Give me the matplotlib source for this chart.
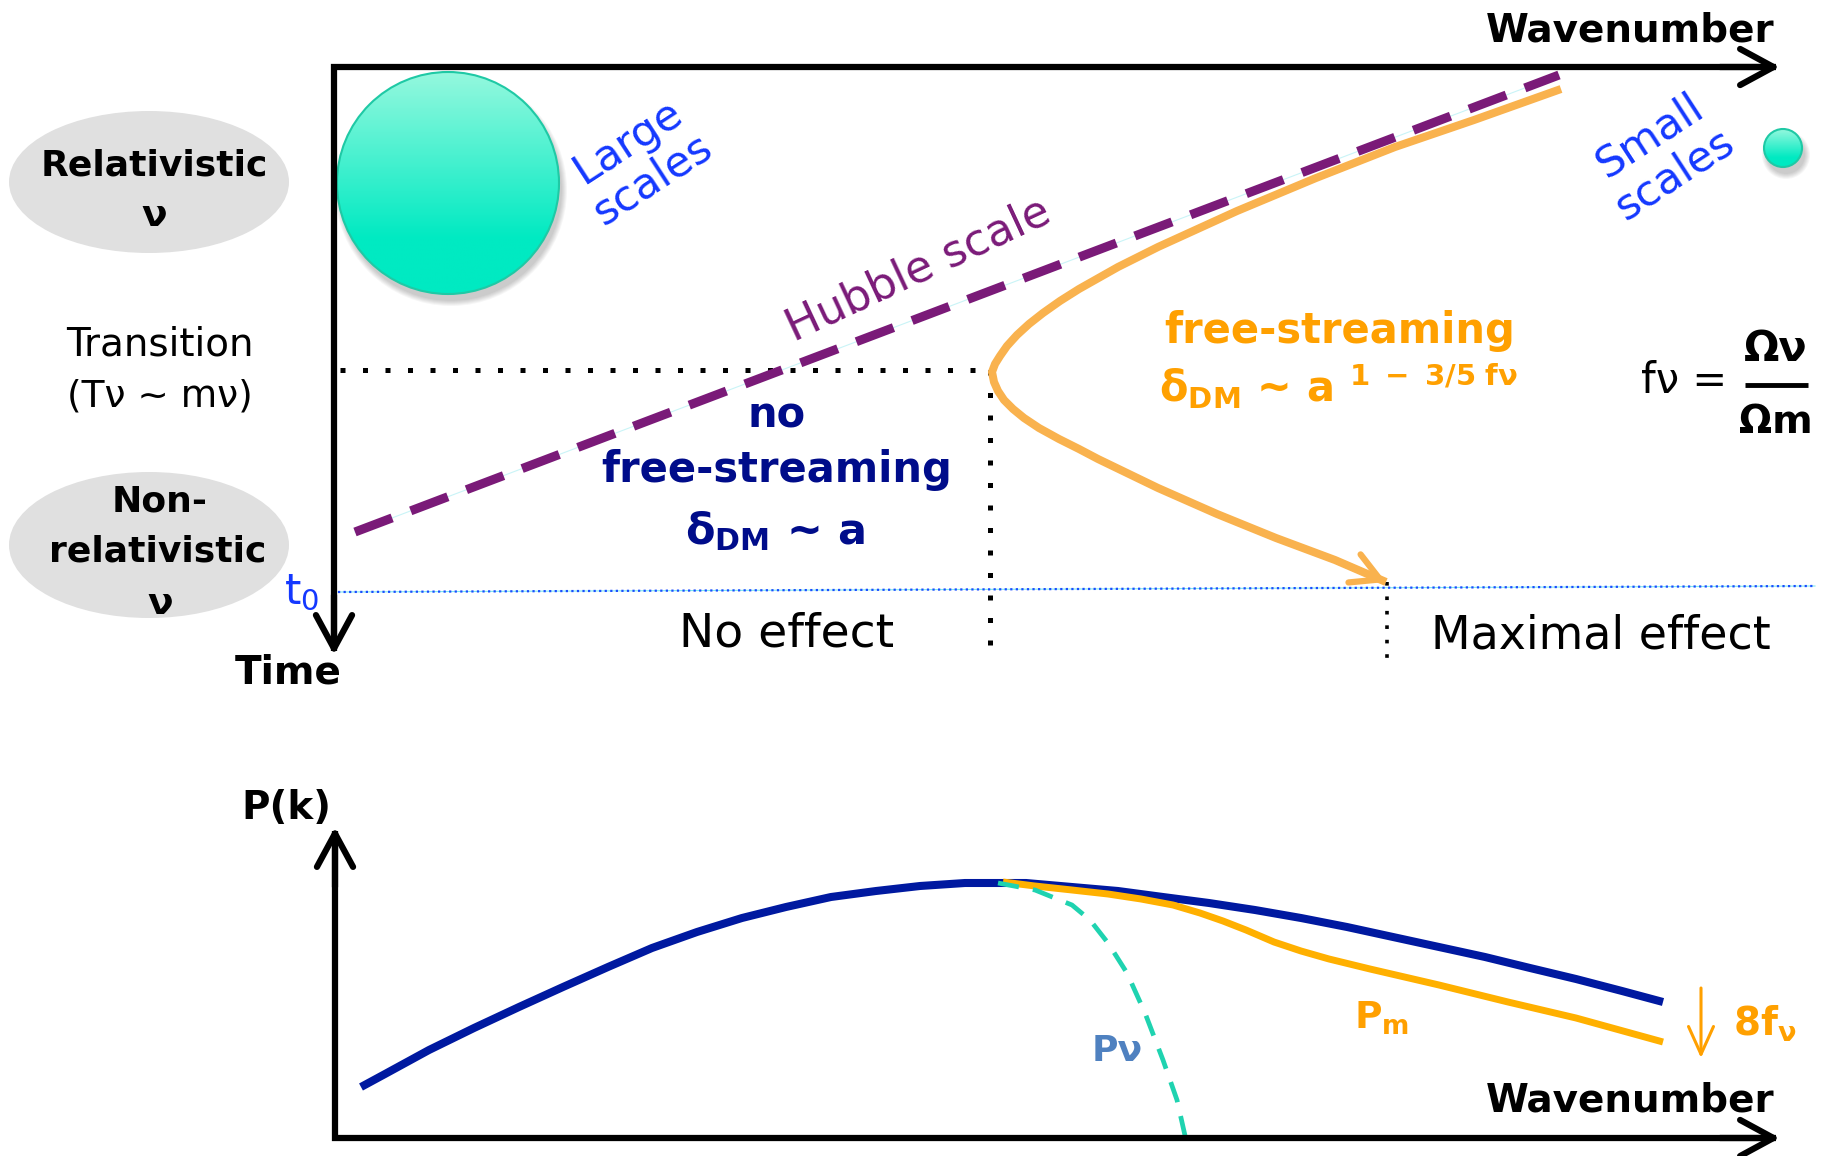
import numpy as np
import matplotlib
matplotlib.use("Agg")
import matplotlib.pyplot as plt
from matplotlib.patches import Circle, Ellipse
from matplotlib.colors import to_rgb

plt.rcParams['font.family'] = ['DejaVu Sans']
plt.rcParams['mathtext.default'] = 'regular'

# ── Canvas (pixel coordinates, y pointing down) ────────────────────────────────
W, H = 1827, 1156

# ── Colours ────────────────────────────────────────────────────────────────────
NAVY        = '#0019a0'
NAVY_TEXT   = '#000c8a'
ORANGE_LINE = '#f9b24e'
ORANGE_PM   = '#ffb000'
ORANGE_TEXT = '#ffa000'
PURPLE      = '#7a1a78'
TEAL        = '#1fd3b0'
BLUE_TEXT   = '#1438ff'
PNU_TEXT    = '#4f81c0'
GREY_BLOB   = '#e0e0e0'

# ── Top panel: time vs wavenumber ──────────────────────────────────────────────
TOP_ORIGIN   = (334, 67)       # corner where the two axes meet
TOP_X_TIP    = 1780
TOP_Y_TIP    = 655

# Hubble scale (dashed)
HUBBLE_X = [355, 1559]
HUBBLE_Y = [532, 75]

# Free-streaming scale (sideways turning curve), from top end to arrow tip
FS_X = [1561, 1474, 1395, 1316, 1237, 1158, 1118, 1079, 1060, 1043, 1029, 1017,
        1007, 1000, 995, 992, 994, 998, 1004, 1013, 1024, 1039, 1059,
        1079, 1098, 1158, 1217, 1276, 1335, 1386]
FS_Y = [89, 120, 147, 178, 211, 247, 267, 289, 301, 313, 324, 335,
        346, 356, 364, 372, 382, 391, 400, 409, 418, 428, 439,
        449, 459, 488, 514, 538, 560, 582]

T_NR_Y   = 370    # non-relativistic transition time
K_NR_X   = 990    # transition wavenumber
T0_Y     = [592, 586]
T0_X     = [338, 1815]
K_FS0_X  = 1387   # free-streaming wavenumber today
BOTTOM_Y = 662

# ── Bottom panel: power spectrum ───────────────────────────────────────────────
BOT_ORIGIN = (335, 1138)
BOT_X_TIP  = 1780
BOT_Y_TIP  = 827

PCDM_X = [361, 385, 429, 474, 519, 563, 608, 652, 697, 742, 786, 831, 876, 920,
          965, 1010, 1026, 1072, 1118, 1163, 1209, 1255, 1301, 1347, 1393, 1439,
          1485, 1530, 1576, 1622, 1663]
PCDM_Y = [1087, 1074, 1050, 1028, 1007, 987, 967, 948, 932, 918, 907, 897, 891,
          886, 883, 883, 883, 887, 891, 897, 903, 910, 918, 927, 937, 947,
          957, 968, 979, 991, 1002]

PM_X = [1003, 1035, 1072, 1108, 1141, 1173, 1200, 1223, 1246, 1274, 1301, 1329,
        1370, 1439, 1508, 1576, 1663]
PM_Y = [882, 886, 890, 894, 899, 905, 913, 921, 930, 942, 951, 959,
        969, 985, 1002, 1018, 1042]

PNU_X = [998, 1035, 1072, 1090, 1108, 1127, 1145, 1163, 1177, 1186]
PNU_Y = [883, 890, 905, 920, 943, 973, 1013, 1060, 1100, 1140]


def axis_arrow(ax, start, tip, lw=4.5, color='black', scale=20):
    ax.annotate('', xy=tip, xytext=start,
                arrowprops=dict(arrowstyle='->,head_length=1.2,head_width=0.65',
                                lw=lw, color=color, shrinkA=0, shrinkB=0,
                                mutation_scale=scale, capstyle='round',
                                joinstyle='round'),
                zorder=6)


def shaded_disc(ax, cx, cy, r, top, bottom, edge):
    # soft drop shadow under the disc
    for k in range(6):
        ax.add_patch(Ellipse((cx + 3, cy + 7), 2 * r + 2 * k, 2 * r + 2 * k,
                             color='black', alpha=0.035, lw=0, zorder=1))
    disc = Circle((cx, cy), r, facecolor='none', edgecolor=edge, lw=1.5, zorder=3)
    ax.add_patch(disc)
    t = np.linspace(0, 1, 256)[:, None, None]
    t = np.clip(t / 0.75, 0, 1)
    rgb = (1 - t) * np.array(to_rgb(top)) + t * np.array(to_rgb(bottom))
    im = ax.imshow(rgb, extent=(cx - r, cx + r, cy + r, cy - r), origin='upper',
                   aspect='auto', zorder=2, interpolation='bilinear')
    im.set_clip_path(disc)


fig = plt.figure(figsize=(W / 100, H / 100), dpi=100)
ax = fig.add_axes([0, 0, 1, 1])
ax.axis('off')

# ── Top panel axes ─────────────────────────────────────────────────────────────
ox, oy = TOP_ORIGIN
ax.plot([ox, ox, TOP_X_TIP - 4], [TOP_Y_TIP - 4, oy, oy], color='black', lw=4.5,
        solid_joinstyle='miter', solid_capstyle='butt', zorder=5)
axis_arrow(ax, (TOP_X_TIP - 60, oy), (TOP_X_TIP, oy))
axis_arrow(ax, (ox, TOP_Y_TIP - 60), (ox, TOP_Y_TIP))
ax.text(1630, 31, 'Wavenumber', fontsize=28, fontweight='bold', ha='center', va='center')
ax.text(288, 672, 'Time', fontsize=28, fontweight='bold', ha='center', va='center')

# scale discs
shaded_disc(ax, 448, 183, 111, '#95f8de', '#00eac2', '#1fc9a5')
shaded_disc(ax, 1783, 148, 19, '#95f8de', '#00eac2', '#1fc9a5')
ax.text(640, 160, 'Large\nscales', fontsize=31, color=BLUE_TEXT, rotation=33,
        ha='center', va='center', multialignment='center', linespacing=1.1)
ax.text(1662, 155, 'Small\nscales', fontsize=31, color=BLUE_TEXT, rotation=33,
        ha='center', va='center', multialignment='center', linespacing=1.1)

# neutrino regime labels
ax.add_patch(Ellipse((149, 182), 280, 142, color=GREY_BLOB, lw=0, zorder=1))
ax.add_patch(Ellipse((149, 545), 280, 146, color=GREY_BLOB, lw=0, zorder=1))
ax.text(154, 165, 'Relativistic', fontsize=26, fontweight='bold', ha='center', va='center')
ax.text(154, 216, 'ν', fontsize=27, fontweight='bold', ha='center', va='center')
ax.text(160, 345, 'Transition', fontsize=28, ha='center', va='center')
ax.text(160, 396, '(Tν ~ mν)', fontsize=27, ha='center', va='center')
ax.text(160, 502, 'Non-', fontsize=26, fontweight='bold', ha='center', va='center')
ax.text(158, 552, 'relativistic', fontsize=26, fontweight='bold', ha='center', va='center')
ax.text(160, 604, 'ν', fontsize=27, fontweight='bold', ha='center', va='center')
ax.text(302, 592, 't$_0$', fontsize=30, color=BLUE_TEXT, ha='center', va='center')

# Hubble scale
ax.plot(HUBBLE_X, HUBBLE_Y, color='#c9f4f7', lw=0.8, zorder=3)
ax.plot(HUBBLE_X, HUBBLE_Y, color=PURPLE, lw=6.5, dashes=(4.4, 2.2),
        solid_capstyle='butt', zorder=4)
ax.text(918, 270, 'Hubble scale', fontsize=32, color=PURPLE, rotation=25,
        ha='center', va='center')

# guide lines
ax.plot([ox + 6, K_NR_X], [T_NR_Y, T_NR_Y], color='black', lw=3.6,
        linestyle=(0, (1, 3.5)), zorder=3)
ax.plot([K_NR_X, K_NR_X], [T_NR_Y, BOTTOM_Y], color='black', lw=3.6,
        linestyle=(0, (1, 3.5)), zorder=3)
ax.plot([K_FS0_X, K_FS0_X], [FS_Y[-1], BOTTOM_Y], color='black', lw=2.6,
        linestyle=(0, (1, 3)), zorder=3)
ax.plot(T0_X, T0_Y, color='#7fe8f0', lw=0.8, zorder=3)
ax.plot(T0_X, T0_Y, color='#1a4cff', lw=1.6, linestyle=(0, (1, 1.5)), zorder=3)

# free-streaming scale
ax.plot(FS_X, FS_Y, color=ORANGE_LINE, lw=5.8, solid_capstyle='butt',
        solid_joinstyle='round', zorder=4)
ax.annotate('', xy=(FS_X[-1], FS_Y[-1]), xytext=(FS_X[-2], FS_Y[-2]),
            arrowprops=dict(arrowstyle='->,head_length=1.0,head_width=0.55',
                            lw=4.5, color=ORANGE_LINE, shrinkA=0, shrinkB=0,
                            mutation_scale=20), zorder=4)

# region annotations
ax.text(777, 416, 'no', fontsize=30, fontweight='bold', color=NAVY_TEXT,
        ha='center', va='center')
ax.text(777, 470, 'free-streaming', fontsize=30, fontweight='bold', color=NAVY_TEXT,
        ha='center', va='center')
ax.text(775, 531, r'$\delta_{\mathbf{DM}}$ ~ a', fontsize=31, fontweight='bold',
        color=NAVY_TEXT, ha='center', va='center')
ax.text(1340, 331, 'free-streaming', fontsize=30, fontweight='bold', color=ORANGE_TEXT,
        ha='center', va='center')
ax.text(1338, 386, r'$\delta_{\mathbf{DM}}$ ~ a $^{1\ -\ 3/5\ f\nu}$', fontsize=30,
        fontweight='bold', color=ORANGE_TEXT, ha='center', va='center')
ax.text(787, 634, 'No effect', fontsize=34, ha='center', va='center')
ax.text(1601, 636, 'Maximal effect', fontsize=33, ha='center', va='center')

# neutrino fraction
ax.text(1684, 381, 'fν =', fontsize=30, ha='center', va='center')
ax.plot([1745, 1808], [385, 385], color='black', lw=3.5, solid_capstyle='butt')
ax.text(1776, 349, 'Ων', fontsize=30, fontweight='bold', ha='center', va='center')
ax.text(1776, 422, 'Ωm', fontsize=28, fontweight='bold', ha='center', va='center')

# ── Bottom panel: P(k) ─────────────────────────────────────────────────────────
bx, by = BOT_ORIGIN
ax.plot([bx, bx, BOT_X_TIP - 4], [BOT_Y_TIP + 4, by, by], color='black', lw=4.5,
        solid_joinstyle='miter', solid_capstyle='butt', zorder=5)
axis_arrow(ax, (BOT_X_TIP - 60, by), (BOT_X_TIP, by))
axis_arrow(ax, (bx, BOT_Y_TIP + 60), (bx, BOT_Y_TIP))
ax.text(286, 808, 'P(k)', fontsize=28, fontweight='bold', ha='center', va='center')
ax.text(1630, 1100, 'Wavenumber', fontsize=28, fontweight='bold', ha='center', va='center')

ax.plot(PCDM_X, PCDM_Y, color=NAVY, lw=5.8, solid_capstyle='butt',
        solid_joinstyle='round', zorder=4)
ax.plot(PM_X, PM_Y, color=ORANGE_PM, lw=5.0, solid_capstyle='butt',
        solid_joinstyle='round', zorder=4)
ax.plot(PNU_X, PNU_Y, color=TEAL, lw=3.4, dashes=(4.5, 3), zorder=4)

ax.text(1117, 1051, 'Pν', fontsize=26, fontweight='bold', color=PNU_TEXT,
        ha='center', va='center')
ax.text(1382, 1018, r'P$_{\mathbf{m}}$', fontsize=27, fontweight='bold', color=ORANGE_TEXT,
        ha='center', va='center')
ax.annotate('', xy=(1701, 1058), xytext=(1701, 988),
            arrowprops=dict(arrowstyle='->,head_length=1.0,head_width=0.45',
                            lw=2.2, color=ORANGE_TEXT, shrinkA=0, shrinkB=0,
                            mutation_scale=20))
ax.text(1765, 1024, r'8f$_{\nu}$', fontsize=28, fontweight='bold', color=ORANGE_TEXT,
        ha='center', va='center')

ax.set_xlim(0, W)
ax.set_ylim(H, 0)

fig.savefig('out.png', dpi=100, facecolor='white')
plt.close(fig)
